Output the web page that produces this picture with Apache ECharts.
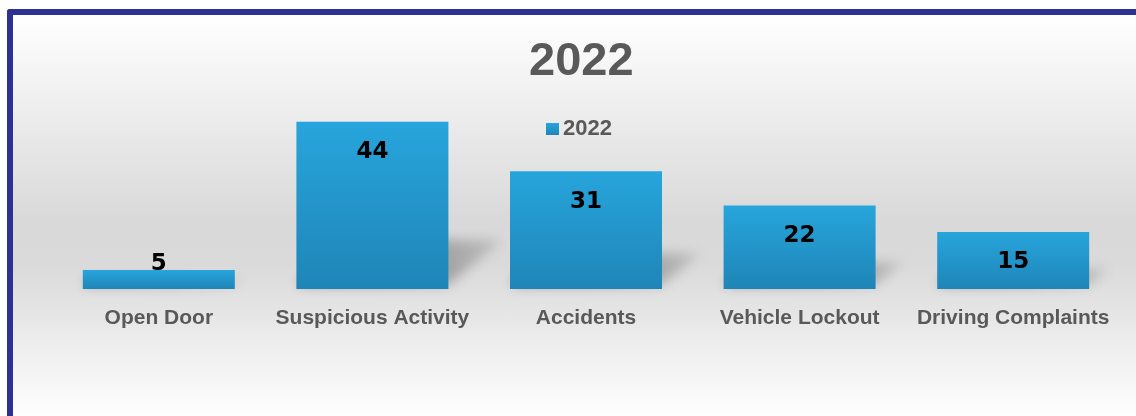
<!DOCTYPE html>
<html>
<head>
<meta charset="utf-8">
<script src="https://cdn.jsdelivr.net/npm/echarts@6/dist/echarts.min.js"></script>
<style>
  html, body { margin: 0; padding: 0; width: 1136px; height: 416px; overflow: hidden; background: #ffffff; }
  #frame { position: absolute; left: 7px; top: 9px; width: 1160px; height: 440px;
    border-top: 6px solid #2e3192; border-left: 6px solid #2e3192; border-top-left-radius: 3px;
    background: linear-gradient(to bottom, #ffffff 0px, #d9d9d9 205px, #dadada 250px, #ffffff 405px); }
  #chart { position: absolute; left: 0; top: 0; width: 1136px; height: 416px; }
</style>
</head>
<body>
<div id="frame"></div>
<div id="chart"></div>
<script>
const titleText = '2022';
const seriesName = '2022';
const categories = ['Open Door', 'Suspicious Activity', 'Accidents', 'Vehicle Lockout', 'Driving Complaints'];
const values = [5, 44, 31, 22, 15];

const chart = echarts.init(document.getElementById('chart'), null, { renderer: 'canvas' });
const barColor = new echarts.graphic.LinearGradient(0, 0, 0, 1, [
  { offset: 0, color: '#27a5dc' },
  { offset: 1, color: '#1f85b7' }
]);
const BAR_W = 152;
const OFF = 3000;

const option = {
  backgroundColor: 'transparent',
  animation: false,
  title: {
    text: titleText,
    left: 524,
    top: 34,
    textStyle: { fontFamily: 'Liberation Sans', fontSize: 47, fontWeight: 'bold', color: '#595959' }
  },
  legend: {
    data: [seriesName],
    left: 541,
    top: 113,
    itemWidth: 13,
    itemHeight: 12,
    itemGap: 6,
    icon: 'rect',
    textStyle: { fontFamily: 'Liberation Sans', fontSize: 22, fontWeight: 'bold', color: '#595959', padding: [0, 0, 0, -1] }
  },
  grid: { left: 52, right: 16, top: 99, bottom: 127 },
  xAxis: {
    type: 'category',
    data: categories,
    axisLine: { show: false },
    axisTick: { show: false },
    axisLabel: { interval: 0, margin: 19, fontFamily: 'Liberation Sans', fontSize: 21, fontWeight: 'bold', color: '#595959' }
  },
  yAxis: { type: 'value', min: 0, max: 50, show: false, splitLine: { show: false } },
  series: [
    {
      name: 'shadow',
      type: 'custom',
      z: 1,
      silent: true,
      data: values.map((v, i) => [i, v]),
      encode: { x: 0, y: 1 },
      renderItem: function (params, api) {
        const i = api.value(0), v = api.value(1);
        const base = api.coord([i, 0]);
        const top = api.coord([i, v]);
        const h = base[1] - top[1];
        const x0 = base[0] - BAR_W / 2 - OFF, x1 = base[0] + BAR_W / 2 - OFF;
        const dx = 0.33 * h, dy = 0.27 * h;
        const b = base[1] - 4;
        return {
          type: 'polygon',
          shape: { points: [[x0, b], [x1, b], [x1 + dx, b - dy], [x0 + dx, b - dy]] },
          style: {
            fill: new echarts.graphic.LinearGradient(0, 1, 1, 0, [
              { offset: 0, color: 'rgba(0,0,0,1)' },
              { offset: 0.5, color: 'rgba(0,0,0,0.85)' },
              { offset: 1, color: 'rgba(0,0,0,0.25)' }
            ]),
            shadowBlur: 12,
            shadowOffsetX: OFF,
            shadowColor: 'rgba(0,0,0,0.42)'
          }
        };
      }
    },
    {
      name: seriesName,
      type: 'bar',
      z: 2,
      barWidth: BAR_W,
      itemStyle: { color: barColor },
      label: {
        show: true,
        position: 'insideTop',
        distance: 19,
        fontFamily: 'DejaVu Sans',
        fontSize: 23,
        fontWeight: 'bold',
        color: '#000000'
      },
      data: values.map(v => v < 8 ? { value: v, label: { position: 'top', distance: -6 } } : v)
    }
  ]
};
chart.setOption(option);
</script>
</body>
</html>
